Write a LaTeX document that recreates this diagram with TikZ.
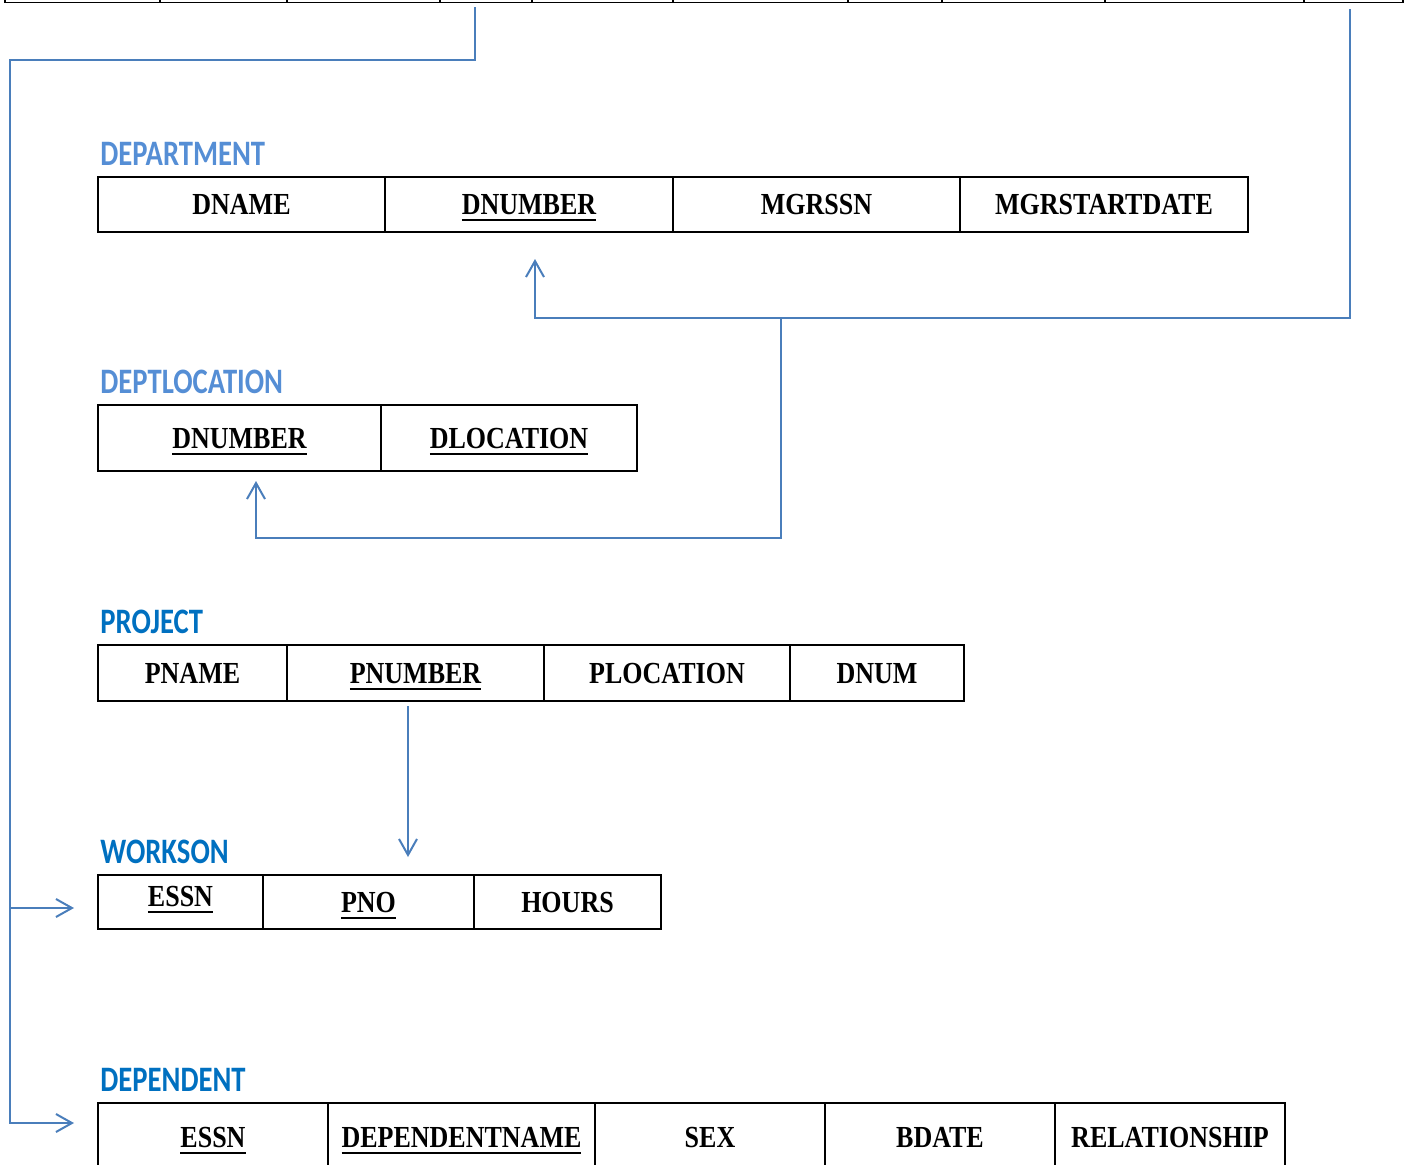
\documentclass[tikz,border=0pt]{standalone}
\usepackage{fontspec}
\setmainfont{Liberation Serif}
\newfontfamily\cellfont[FakeStretch=0.85]{Liberation Serif}
\newfontfamily\headfont[FakeStretch=0.8]{Carlito}
\usepackage{tikz}
\usetikzlibrary{calc,arrows.meta}
\definecolor{linkblue}{RGB}{74,126,187}
\definecolor{lightrel}{RGB}{85,142,213}
\definecolor{darkrel}{RGB}{0,112,192}
\newcommand{\keyname}[1]{\setbox0=\hbox{#1}\copy0\kern-\wd0\rule[-3.4pt]{\wd0}{1.15pt}}
\tikzset{>={Straight Barb[length=8pt,width=9pt]}}
\tikzset{
  cell/.style 2 args={draw, line width=1pt, minimum width=#1*0.5pt, minimum height=#2*0.5pt,
    inner sep=0pt, text height=10.1pt, text depth=0pt,
    font=\cellfont\bfseries\fontsize{15.3}{16}\selectfont},
  topcell/.style={draw, line width=0.9pt, minimum width=#1*0.5pt, minimum height=26pt, inner sep=0pt},
  relname/.style={anchor=base west, inner sep=0pt, text=#1,
    font=\headfont\bfseries\fontsize{17.9}{18}\selectfont},
  link/.style={draw=linkblue, line width=1pt}
}

\begin{document}
\begin{tikzpicture}[x=0.5pt,y=-0.5pt]
    \useasboundingbox (0,0) rectangle (1410,1164);
    \clip (0,0) rectangle (1410,1164);

    % table above, only its lower edge is in view
    \node[topcell=155] (e1) at (82.5,-23.5) {};
    \node[topcell=127] (e2) at (223.5,-23.5) {};
    \node[topcell=153] (e3) at (363.5,-23.5) {};
    \node[topcell=92] (e4) at (486,-23.5) {};
    \node[topcell=141] (e5) at (602.5,-23.5) {};
    \node[topcell=175] (e6) at (760.5,-23.5) {};
    \node[topcell=94] (e7) at (895,-23.5) {};
    \node[topcell=163] (e8) at (1023.5,-23.5) {};
    \node[topcell=199] (e9) at (1204.5,-23.5) {};
    \node[topcell=99] (e10) at (1353.5,-23.5) {};

    \node[relname=lightrel] (department) at (100,165) {DEPARTMENT};
    \node[cell={287}{55}] (dname) at (241.5,204.5) {DNAME};
    \node[cell={288}{55}] (dnumber) at (529,204.5) {\keyname{DNUMBER}};
    \node[cell={287}{55}] (mgrssn) at (816.5,204.5) {MGRSSN};
    \node[cell={288}{55}] (mgrstart) at (1104,204.5) {MGRSTARTDATE};

    \node[relname=lightrel] (deptlocation) at (100,393) {DEPTLOCATION};
    \node[cell={283}{66}] (ldnumber) at (239.5,438) {\keyname{DNUMBER}};
    \node[cell={256}{66}] (dlocation) at (509,438) {\keyname{DLOCATION}};

    \node[relname=darkrel] (project) at (100,633) {PROJECT};
    \node[cell={189}{56}] (pname) at (192.5,673) {PNAME};
    \node[cell={257}{56}] (pnumber) at (415.5,673) {\keyname{PNUMBER}};
    \node[cell={246}{56}] (plocation) at (667,673) {PLOCATION};
    \node[cell={174}{56}] (dnum) at (877,673) {DNUM};

    \node[relname=darkrel] (workson) at (100,863) {WORKSON};
    \node[cell={165}{54}] (wessn) at (180.5,902) {\raisebox{3pt}{\keyname{ESSN}}};
    \node[cell={211}{54}] (pno) at (368.5,902) {\keyname{PNO}};
    \node[cell={187}{54}] (hours) at (567.5,902) {HOURS};

    \node[relname=darkrel] (dependent) at (100,1091) {DEPENDENT};
    \node[cell={230}{68}] (dessn) at (213,1137) {\keyname{ESSN}};
    \node[cell={267}{68}] (depname) at (461.5,1137) {\keyname{DEPENDENTNAME}};
    \node[cell={230}{68}] (sex) at (710,1137) {SEX};
    \node[cell={230}{68}] (bdate) at (940,1137) {BDATE};
    \node[cell={230}{68}] (relationship) at (1170,1137) {RELATIONSHIP};

    % foreign keys
    \coordinate (spine) at (10,908);
    \coordinate (split) at (781,317);
    \draw[link,->] ($(e4.south)+(-11,4)$) |- (10,60) |- ($(dessn.west)+(-23,-14)$);
    \draw[link,->] (spine) -- ($(wessn.west)+(-23,6)$);
    \draw[link,->] ($(e10.south)+(-3.5,6)$) |- ($(dnumber.south)+(6,85)$) -- ($(dnumber.south)+(6,26)$);
    \draw[link,->] (split) |- ($(ldnumber.south)+(16.5,66)$) -- ($(ldnumber.south)+(16.5,9)$);
    \draw[link,->] ($(pnumber.south)+(-7.5,4)$) -- ($(pno.north)+(39.5,-17)$);
\end{tikzpicture}
\end{document}
